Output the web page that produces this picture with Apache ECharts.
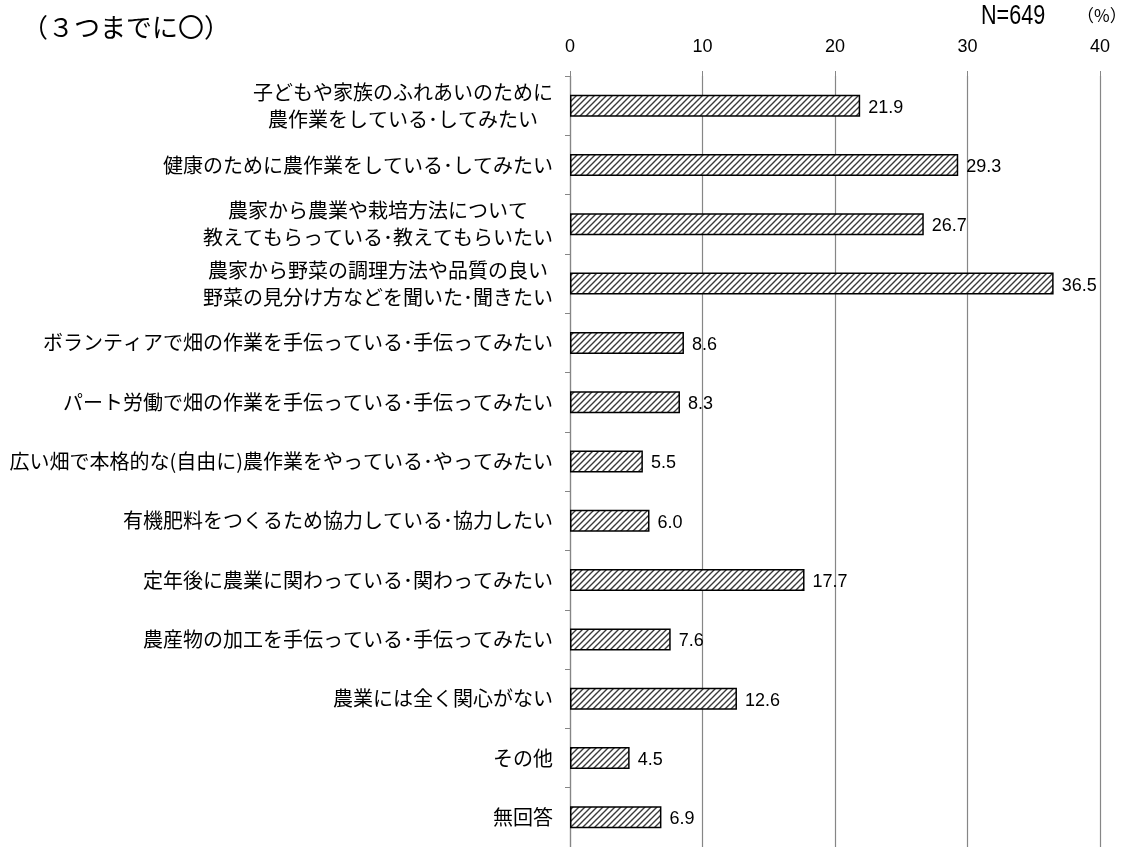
<!DOCTYPE html>
<html><head><meta charset="utf-8">
<script src="https://cdn.jsdelivr.net/npm/echarts@6/dist/echarts.min.js"></script>
<style>html,body{margin:0;padding:0;background:#fff}#c{width:1130px;height:847px}</style>
</head><body><div id="c"></div>
<script>
const categories = [
  '子どもや家族のふれあいのために\n農作業をしている･してみたい',
  '健康のために農作業をしている･してみたい',
  '農家から農業や栽培方法について\n教えてもらっている･教えてもらいたい',
  '農家から野菜の調理方法や品質の良い\n野菜の見分け方などを聞いた･聞きたい',
  'ボランティアで畑の作業を手伝っている･手伝ってみたい',
  'パート労働で畑の作業を手伝っている･手伝ってみたい',
  '広い畑で本格的な(自由に)農作業をやっている･やってみたい',
  '有機肥料をつくるため協力している･協力したい',
  '定年後に農業に関わっている･関わってみたい',
  '農産物の加工を手伝っている･手伝ってみたい',
  '農業には全く関心がない',
  'その他',
  '無回答'
];
const values = [21.9, 29.3, 26.7, 36.5, 8.6, 8.3, 5.5, 6.0, 17.7, 7.6, 12.6, 4.5, 6.9];
const axisMin = 0, axisMax = 40, axisStep = 10;

function hatch(){
  const s = 6;
  const cv = document.createElement('canvas');
  cv.width = s; cv.height = s;
  const g = cv.getContext('2d');
  g.fillStyle = '#fff'; g.fillRect(0,0,s,s);
  g.strokeStyle = '#3a3a3a'; g.lineWidth = 1.4;
  g.beginPath();
  g.moveTo(-1, s+1); g.lineTo(s+1, -1);
  g.moveTo(-1, 1); g.lineTo(1, -1);
  g.moveTo(s-1, s+1); g.lineTo(s+1, s-1);
  g.stroke();
  return cv;
}

const jp = '"Noto Sans CJK JP", sans-serif';
const chart = echarts.init(document.getElementById('c'));
chart.setOption({
  animation: false,
  backgroundColor: '#fff',
  graphic: [
    {type:'text', x: 22, y: 14, style:{text:'（３つまでに〇）', font:'26px ' + jp, fill:'#000'}},
    {type:'text', x: 981, y: 3, scaleX: 0.8, style:{text:'N=649', font:'27px "Liberation Sans", sans-serif', fill:'#000'}},
    {type:'text', x: 1077, y: 7, style:{text:'（%）', font:'17px ' + jp, fill:'#000'}}
  ],
  grid: {left: 570, right: 30, top: 76, bottom: 0, containLabel: false},
  xAxis: {
    type: 'value', position: 'top', min: axisMin, max: axisMax, interval: axisStep,
    axisLine: {show: false},
    axisTick: {show: true, length: 5, lineStyle: {color: '#868686'}},
    axisLabel: {color: '#000', fontSize: 18, margin: 20, fontFamily: '"Liberation Sans", sans-serif'},
    splitLine: {show: true, lineStyle: {color: '#868686', width: 1.2}}
  },
  yAxis: {
    type: 'category', inverse: true, data: categories,
    axisLine: {show: true, lineStyle: {color: '#868686', width: 1.2}},
    axisTick: {show: true, length: 5, lineStyle: {color: '#868686'}},
    axisLabel: {
      color: '#000', fontSize: 20, fontFamily: jp, margin: 17, lineHeight: 27,
      formatter: function(v){ return v.split('\n').map(l => '{c|' + l + '}').join('\n'); },
      rich: {c: {align: 'center', fontSize: 20, fontFamily: jp, lineHeight: 27, color: '#000'}}
    }
  },
  series: [{
    type: 'bar', data: values, barWidth: 22,
    itemStyle: {color: {image: hatch(), repeat: 'repeat'}, borderColor: '#000', borderWidth: 1.5},
    label: {show: true, position: 'right', distance: 8, color: '#000', fontSize: 18,
      fontFamily: '"Liberation Sans", sans-serif', offset: [0, 2],
      formatter: p => p.value.toFixed(1)}
  }]
});
</script></body></html>
